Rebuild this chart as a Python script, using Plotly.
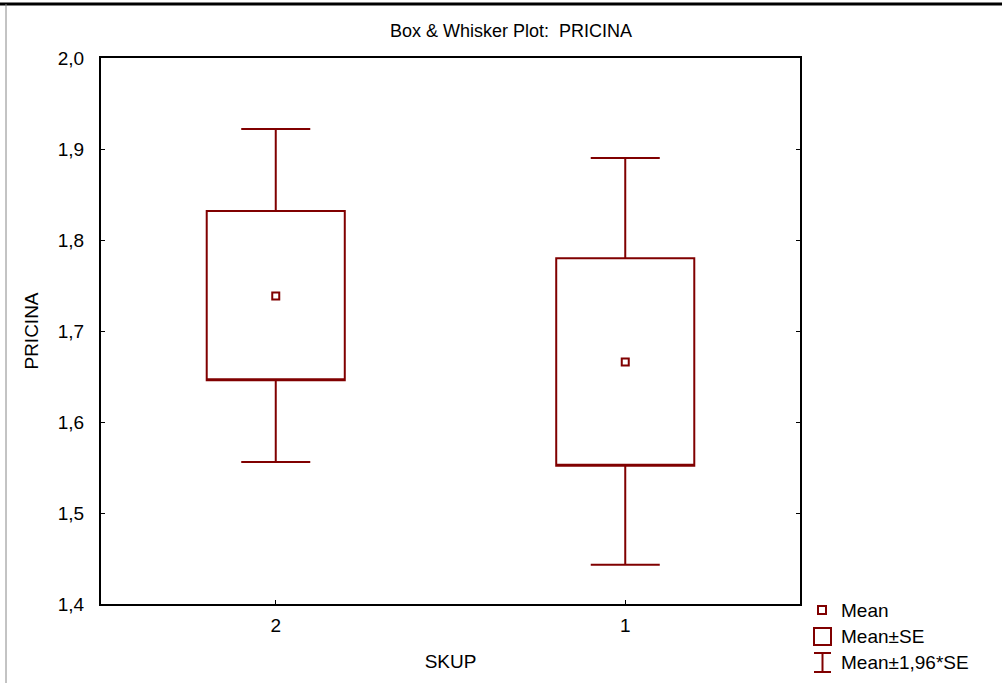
import plotly.graph_objects as go

# values (STATISTICA style mean / SE plot)
groups = ["2", "1"]
means = [1.7385, 1.666]
se_low = [1.646, 1.552]
se_high = [1.832, 1.780]
ci_low = [1.556, 1.443]
ci_high = [1.922, 1.890]

y_ticks = [1.4, 1.5, 1.6, 1.7, 1.8, 1.9, 2.0]
legend_labels = ["Mean", "Mean±SE", "Mean±1,96*SE"]

RED = "#800000"
FONT = "Liberation Sans, Arial, sans-serif"

fig = go.Figure()

fig.add_trace(go.Box(
    x=groups, q1=se_low, median=se_low, q3=se_high,
    lowerfence=ci_low, upperfence=ci_high,
    width=0.395, whiskerwidth=0.5,
    fillcolor="white", line=dict(color=RED, width=2),
    showlegend=False, hoverinfo="skip",
))
fig.add_trace(go.Scatter(
    x=groups, y=means, mode="markers",
    marker=dict(symbol="square-open", size=7, color=RED, line=dict(width=2, color=RED)),
    showlegend=False,
))

fig.update_layout(
    width=1002, height=683,
    margin=dict(l=101, r=202, t=58, b=79),
    paper_bgcolor="white", plot_bgcolor="white",
    separators=",.",
    font=dict(family=FONT, color="black", size=19),
    title=dict(text="Box & Whisker Plot:  PRICINA", x=511 / 1002, xanchor="center",
               y=1 - 31 / 683, yanchor="middle", font=dict(size=18)),
    xaxis=dict(
        type="category", range=[-0.5, 1.5],
        showline=True, linecolor="black", linewidth=2, mirror=True,
        ticks="inside", ticklen=4, tickwidth=1, tickcolor="black",
        showgrid=False, zeroline=False, ticklabelstandoff=3,
        title=dict(text="SKUP", standoff=20, font=dict(size=19)),
    ),
    yaxis=dict(
        range=[1.4, 2.0], tickvals=y_ticks, tickformat=".1f",
        showline=True, linecolor="black", linewidth=2, mirror="ticks",
        ticks="inside", ticklen=4, tickwidth=1, tickcolor="black",
        showgrid=False, zeroline=False, ticklabelstandoff=11,
        title=dict(text="PRICINA", standoff=14, font=dict(size=19)),
    ),
)

# outer frame lines of the exported graph window
fig.add_shape(type="line", xref="paper", yref="paper",
              x0=-101 / 699, x1=901 / 699, y0=1 + 54 / 546, y1=1 + 54 / 546,
              line=dict(color="black", width=3))
fig.add_shape(type="line", xref="paper", yref="paper",
              x0=-95 / 699, x1=-95 / 699, y0=-79 / 546, y1=1 + 54 / 546,
              line=dict(color="#888888", width=1))

# hand-made legend (pixel positions converted to paper coords)
def px(xp):
    return (xp - 101) / 699

def py(yp):
    return (604 - yp) / 546

fig.add_shape(type="rect", xref="paper", yref="paper",
              x0=px(818), x1=px(826), y0=py(614), y1=py(606),
              line=dict(color=RED, width=2), fillcolor="white")
fig.add_shape(type="rect", xref="paper", yref="paper",
              x0=px(814), x1=px(831), y0=py(645), y1=py(628),
              line=dict(color=RED, width=2), fillcolor="white")
fig.add_shape(type="line", xref="paper", yref="paper",
              x0=px(822.5), x1=px(822.5), y0=py(672), y1=py(653),
              line=dict(color=RED, width=2))
for yy in (653, 672):
    fig.add_shape(type="line", xref="paper", yref="paper",
                  x0=px(814), x1=px(831), y0=py(yy), y1=py(yy),
                  line=dict(color=RED, width=2))

for label, yy in zip(legend_labels, [610, 636, 662]):
    fig.add_annotation(text=label, xref="paper", yref="paper",
                       x=px(839), y=py(yy), xanchor="left", yanchor="middle",
                       showarrow=False, font=dict(size=19))

# drop the browser's default 8px body margin so the figure sits at 0,0
fig.write_html("out.html", config={"displayModeBar": False},
               post_script="document.body.style.margin='0';")
